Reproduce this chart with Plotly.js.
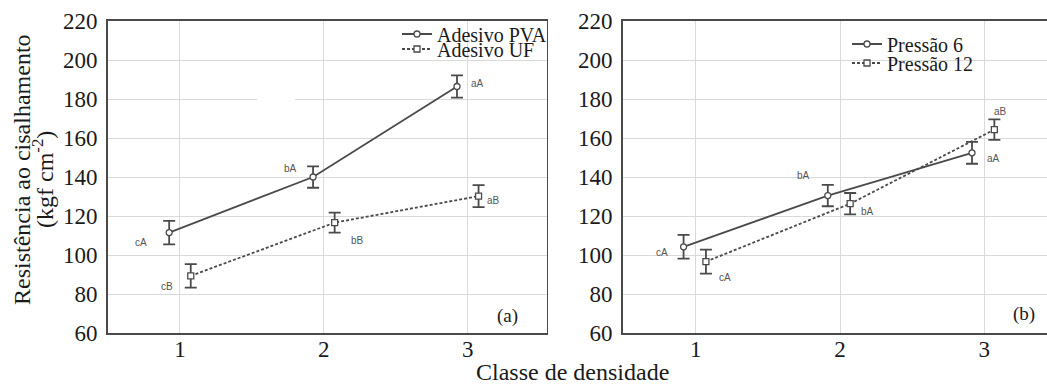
<!DOCTYPE html>
<html>
<head>
<meta charset="utf-8">
<script src="https://cdn.plot.ly/plotly-3.0.1.min.js"></script>
<style>html,body{margin:0;padding:0;background:#fff;}#chart{width:1047px;height:384px;}</style>
</head>
<body>
<div id="chart"></div>
<script>
// ---- data ----
const categories = [1, 2, 3];
const tickValsY = [60, 80, 100, 120, 140, 160, 180, 200, 220];

// panel (a)
const pvaName = 'Adesivo PVA';
const pvaMean = [111.5, 140.0, 186.4];
const pvaErr  = [6.0, 5.5, 5.7];
const pvaLabels = ['cA', 'bA', 'aA'];

const ufName = 'Adesivo UF';
const ufMean = [89.3, 116.6, 130.2];
const ufErr  = [6.0, 5.1, 5.6];
const ufLabels = ['cB', 'bB', 'aB'];

// panel (b)
const p6Name = 'Pressão 6';
const p6Mean = [104.2, 130.5, 152.4];
const p6Err  = [6.1, 5.5, 5.6];
const p6Labels = ['cA', 'bA', 'aA'];

const p12Name = 'Pressão 12';
const p12Mean = [96.6, 126.3, 164.3];
const p12Err  = [6.2, 5.5, 5.3];
const p12Labels = ['cA', 'bA', 'aB'];

// ---- styling ----
const ink = '#4a4a4a';
const serif = '"Liberation Serif", "Times New Roman", serif';
const sans = '"Liberation Sans", Arial, sans-serif';

function series(name, mean, err, offset, dash, symbol, xa, ya, legendId) {
  return {
    type: 'scatter', mode: 'lines+markers', name: name,
    x: categories.map(c => c + offset), y: mean,
    xaxis: xa, yaxis: ya, legend: legendId,
    line: {color: ink, width: 1.8, dash: dash},
    marker: {symbol: symbol, size: 6, color: '#ffffff', line: {color: ink, width: 1.3}},
    error_y: {type: 'data', array: err, visible: true, color: ink, thickness: 1.8, width: 6},
    cliponaxis: false
  };
}

const offL = [-0.075, 0.075];
const offR = [-0.085, 0.07];
const dotted = '3px,2px';

const traces = [
  series(pvaName, pvaMean, pvaErr, offL[0], 'solid', 'circle', 'x', 'y', 'legend'),
  series(ufName, ufMean, ufErr, offL[1], dotted, 'square', 'x', 'y', 'legend2'),
  series(p6Name, p6Mean, p6Err, offR[0], 'solid', 'circle', 'x2', 'y2', 'legend3'),
  series(p12Name, p12Mean, p12Err, offR[1], dotted, 'square', 'x2', 'y2', 'legend4')
];

// letter label shifts (pixels, relative to each point)
const shiftPVA = [[-28, -10], [-23, 9], [21, 3]];
const shiftUF  = [[-24, -11], [23, -18], [15, -4]];
const shiftP6  = [[-22, -6], [-24, 20], [21, -6]];
const shiftP12 = [[19, -16], [17, -8], [6, 18]];

const annotations = [];
function addLabels(labels, mean, offset, shifts, xa, ya) {
  labels.forEach((t, i) => {
    annotations.push({
      text: t, x: categories[i] + offset, y: mean[i], xref: xa, yref: ya,
      xanchor: 'center', yanchor: 'middle',
      xshift: shifts[i][0], yshift: shifts[i][1], showarrow: false,
      font: {family: sans, size: 10, color: '#555'}
    });
  });
}
addLabels(pvaLabels, pvaMean, offL[0], shiftPVA, 'x', 'y');
addLabels(ufLabels, ufMean, offL[1], shiftUF, 'x', 'y');
addLabels(p6Labels, p6Mean, offR[0], shiftP6, 'x2', 'y2');
addLabels(p12Labels, p12Mean, offR[1], shiftP12, 'x2', 'y2');

const W = 1047, H = 384;
const px = v => v / W, py = v => 1 - v / H;

function paperText(text, x, y, size, angle) {
  return {text: text, xref: 'paper', yref: 'paper', x: px(x), y: py(y),
          xanchor: 'center', yanchor: 'middle', textangle: angle || 0, showarrow: false,
          font: {family: serif, size: size, color: '#1a1a1a'}};
}

annotations.push(
  paperText('Resistência ao cisalhamento', 22, 170, 24, -90),
  paperText('(kgf cm<sup>-2</sup>)', 43, 179, 24, -90),
  paperText('Classe de densidade', 572, 372, 24),
  paperText('(a)', 507, 316, 19),
  paperText('(b)', 1024, 314, 19)
);

const axisCommon = {
  showline: true, linecolor: ink, linewidth: 1.8, mirror: true,
  showgrid: true, gridcolor: '#dadada', gridwidth: 1,
  zeroline: false, ticks: '', ticklen: 0, fixedrange: true,
  tickfont: {family: serif, size: 23, color: '#1a1a1a'}
};

function legendBox(x, y) {
  return {x: px(x), y: py(y), xanchor: 'left', yanchor: 'middle', bgcolor: 'rgba(0,0,0,0)',
          borderwidth: 0, font: {family: serif, size: 20, color: '#1a1a1a'}, itemwidth: 30,
          tracegroupgap: 0};
}

const layout = {
  width: W, height: H,
  margin: {l: 0, r: 0, t: 0, b: 0},
  font: {family: serif, size: 23, color: '#1a1a1a'},
  paper_bgcolor: '#fff', plot_bgcolor: '#fff',
  showlegend: true,
  xaxis: Object.assign({}, axisCommon, {domain: [px(108), px(546.5)], range: [0.5, 3.547],
    tickvals: categories, anchor: 'y', ticklabelstandoff: -5}),
  yaxis: Object.assign({}, axisCommon, {domain: [py(333), py(21)], range: [60, 220],
    tickvals: tickValsY, anchor: 'x', ticklabelstandoff: 4}),
  xaxis2: Object.assign({}, axisCommon, {domain: [px(623), 1], range: [0.495, 3.435],
    tickvals: categories, anchor: 'y2', ticklabelstandoff: -5}),
  yaxis2: Object.assign({}, axisCommon, {domain: [py(333), py(21)], range: [60, 220],
    tickvals: tickValsY, anchor: 'x2', mirror: false, ticklabelstandoff: 4}),
  legend: legendBox(397, 34),
  legend2: legendBox(397, 49),
  legend3: legendBox(847, 44),
  legend4: legendBox(847, 63),
  annotations: annotations,
  shapes: [
    {type: 'rect', xref: 'x', yref: 'y', x0: 1.535, x1: 1.80, y0: 179.2, y1: 180.8,
     fillcolor: '#fff', line: {width: 0}, layer: 'between'}
  ]
};

Plotly.newPlot('chart', traces, layout, {staticPlot: true, displayModeBar: false});
</script>
</body>
</html>
